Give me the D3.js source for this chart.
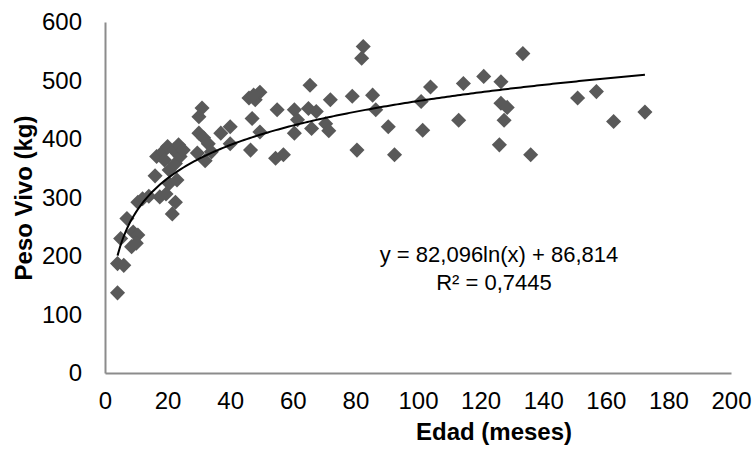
<!DOCTYPE html>
<html>
<head>
<meta charset="utf-8">
<script src="https://cdn.jsdelivr.net/npm/d3@7"></script>
<style>
  html, body { margin: 0; padding: 0; background: #fff; }
  svg { display: block; font-family: "Liberation Sans", Arial, sans-serif; }
</style>
</head>
<body>
<svg id="chart" width="755" height="451"></svg>
<script>
// ---- data ----
const edad = [
  4, 4, 6, 5, 7, 9, 10.5, 8.5, 10, 10.5, 12, 14,
  16, 16.5, 17.5, 18.5, 19, 19.5, 20, 20.5, 20.5, 22, 22.5, 23, 23.5, 24, 25, 21.5, 22.5,
  30, 31, 30, 31.5, 33, 34, 29.5, 32, 37, 40, 40,
  46, 48, 49.5, 47, 46.5, 49.5, 47.5,
  55, 54.5, 57, 60.5, 61.5, 60.5, 65.5, 65, 67.5, 66, 70.5, 71.5, 72, 79, 80.5, 82.5, 82, 85.5, 86.5,
  90.5, 92.5, 101, 104, 101.5, 114.5, 113, 121, 126.5, 126.5, 128.5, 127.5, 126, 133.5, 136,
  151, 157, 162.5, 172.5
];
const peso = [
  137, 187, 184, 230, 264, 241, 236, 216, 222, 292, 298, 302,
  337, 370, 301, 378, 364, 306, 387, 347, 324, 381, 358, 330, 390, 370, 381, 272, 292,
  438, 453, 410, 402, 392, 378, 376, 363, 410, 421, 392,
  470, 467, 480, 435, 381, 412, 475,
  450, 367, 373, 450, 433, 410, 492, 452, 447, 418, 426, 414, 467, 473, 381, 558, 538, 475, 450,
  421, 373, 464, 489, 415, 495, 432, 507, 498, 461, 454, 432, 390, 546, 373,
  470, 481, 430, 446
];
const xTicks = [0, 20, 40, 60, 80, 100, 120, 140, 160, 180, 200];
const yTicks = [0, 100, 200, 300, 400, 500, 600];
const trendA = 82.096, trendB = 86.814;
const eqLine1 = "y = 82,096ln(x) + 86,814";
const eqLine2 = "R\u00B2 = 0,7445";
const xTitle = "Edad (meses)";
const yTitle = "Peso Vivo (kg)";

// ---- drawing ----
const svg = d3.select("#chart");
const x = d3.scaleLinear().domain([0, 200]).range([105, 731]);
const y = d3.scaleLinear().domain([0, 600]).range([373, 22]);
const axisColor = "#8c8c8c";

// axes
const gx = svg.append("g").attr("transform", `translate(0,${y(0)})`)
  .call(d3.axisBottom(x).tickValues(xTicks).tickSize(0).tickSizeOuter(0).tickPadding(24)
    .tickFormat(d3.format("d")));
const gy = svg.append("g").attr("transform", `translate(${x(0)},0)`)
  .call(d3.axisLeft(y).tickValues(yTicks).tickSize(0).tickSizeOuter(0).tickPadding(23)
    .tickFormat(d3.format("d")));
[gx, gy].forEach(g => {
  g.select(".domain").attr("stroke", axisColor).attr("stroke-width", 2);
  g.selectAll("text").attr("font-size", 24).attr("fill", "#000")
    .attr("font-family", "'Liberation Sans', Arial, sans-serif");
});
gx.selectAll("text").attr("dy", "0.5em");

// markers
const pts = edad.map((e, i) => ({ x: e, y: peso[i] }));
svg.append("g").selectAll("path").data(pts).join("path")
  .attr("transform", d => `translate(${x(d.x)},${y(d.y)})`)
  .attr("d", d3.symbol().type(d3.symbolDiamond2).size(145))
  .attr("fill", "#595959");

// log trend line over the data range
const xmin = d3.min(edad), xmax = d3.max(edad);
const trendXs = d3.range(0, 201).map(i => xmin + (xmax - xmin) * i / 200);
svg.append("path")
  .datum(trendXs)
  .attr("fill", "none").attr("stroke", "#000").attr("stroke-width", 2)
  .attr("d", d3.line().x(d => x(d)).y(d => y(trendA * Math.log(d) + trendB)));

// equation
svg.append("text").attr("x", 499).attr("y", 262).attr("text-anchor", "middle")
  .attr("font-size", 22).attr("fill", "#000").text(eqLine1);
svg.append("text").attr("x", 494).attr("y", 290).attr("text-anchor", "middle")
  .attr("font-size", 22).attr("fill", "#000").text(eqLine2);

// axis titles
svg.append("text").attr("x", 494).attr("y", 440).attr("text-anchor", "middle")
  .attr("font-size", 24).attr("font-weight", "bold").attr("fill", "#000").text(xTitle);
svg.append("text").attr("transform", "translate(32,198) rotate(-90)")
  .attr("text-anchor", "middle")
  .attr("font-size", 24).attr("font-weight", "bold").attr("fill", "#000").text(yTitle);
</script>
</body>
</html>
